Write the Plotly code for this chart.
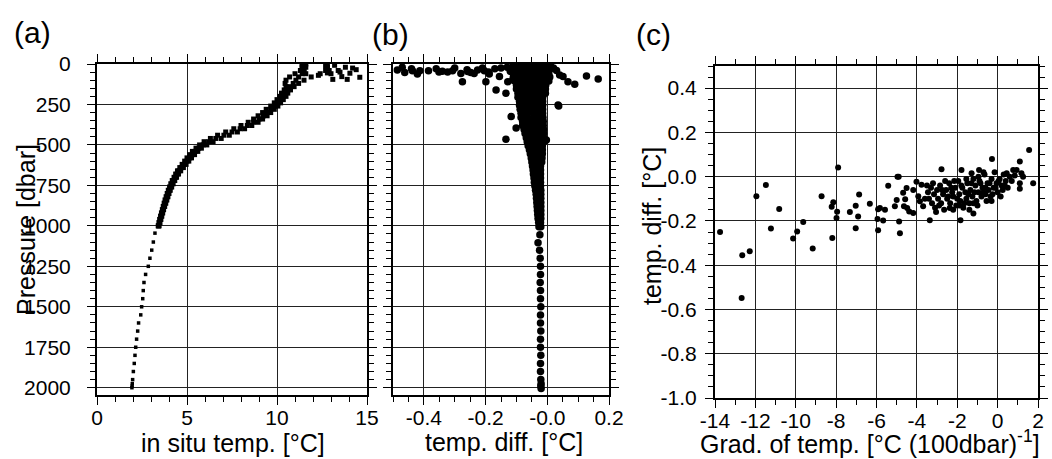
import plotly.graph_objects as go

W, H = 1052, 459
FONT = "Liberation Sans, Arial, sans-serif"

# ---------------- Panel (a): in situ temperature profiles ----------------
a_levels = [0, 20, 40, 60, 80, 100, 120, 140, 160, 180, 200, 220, 240, 260, 280, 300,
            320, 340, 360, 380, 400, 420, 440, 460, 480, 500, 520, 540, 560, 580, 600,
            620, 640, 660, 680, 700, 720, 740, 760, 780, 800, 820, 840, 860, 880, 900,
            920, 940, 960, 980, 1000]
a_temp_A = [11.4, 11.4, 11.5, 11.4, 11.2, 11.05, 10.9, 10.7, 10.6, 10.45, 10.35, 10.2, 10.05,
            9.9, 9.65, 9.45, 9.25, 9.0, 8.7, 8.35, 7.95, 7.5, 7.05, 6.6, 6.2, 5.9, 5.65, 5.45,
            5.3, 5.15, 5.0, 4.85, 4.7, 4.55, 4.45, 4.35, 4.25, 4.17, 4.1, 4.02, 3.96, 3.9,
            3.84, 3.78, 3.72, 3.67, 3.62, 3.57, 3.52, 3.47, 3.42]
a_temp_B = [12.8, 12.8, 12.7, 12.4, 11.9, 11.5, 11.2, 10.95, 10.75, 10.6, 10.5, 10.35, 10.2,
            10.05, 9.85, 9.65, 9.45, 9.2, 8.95, 8.6, 8.2, 7.8, 7.35, 6.9, 6.45, 6.1, 5.8, 5.6,
            5.42, 5.25, 5.1, 4.95, 4.8, 4.65, 4.53, 4.42, 4.32, 4.23, 4.15, 4.07, 4.0, 3.94,
            3.88, 3.82, 3.76, 3.7, 3.65, 3.6, 3.55, 3.5, 3.45]
a_temp_C = [11.6, 11.6, 11.3, 11.0, 10.7, 10.5, 10.45, 10.5, 10.4, 10.25, 10.15, 10.0, 9.85,
            9.65, 9.4, 9.2, 8.95, 8.7, 8.4, 8.0, 7.6, 7.15, 6.7, 6.3, 5.95, 5.7, 5.5, 5.3,
            5.15, 5.0, 4.87, 4.73, 4.6, 4.47, 4.37, 4.28, 4.18, 4.1, 4.03, 3.96, 3.9, 3.84,
            3.78, 3.73, 3.68, 3.63, 3.58, 3.53, 3.48, 3.44, 3.4]
a_surf_p = [5, 15, 30, 45, 60, 10, 25, 40, 55, 95, 78, 95, 57, 82, 25, 40, 60, 70, 8, 20, 35, 50]
a_surf_t = [11.4, 11.5, 11.4, 11.5, 11.6, 12.7, 12.8, 12.9, 12.8, 13.1, 13.6, 13.9, 14.05,
            14.6, 14.2, 13.4, 13.0, 12.3, 13.2, 13.8, 14.4, 13.5]
a_deep_p = [1045, 1100, 1150, 1200, 1250, 1300, 1350, 1400, 1450, 1500, 1550, 1600, 1650,
            1700, 1750, 1800, 1850, 1900, 1950, 1975, 1990, 2000]
a_deep_t = [3.22, 3.13, 3.04, 2.94, 2.85, 2.70, 2.61, 2.57, 2.54, 2.48, 2.43, 2.31, 2.26,
            2.20, 2.15, 2.11, 2.07, 2.02, 1.98, 1.96, 1.95, 1.94]

# ---------------- Panel (b): temperature difference vs pressure ----------------
b_core_levels = [10, 30, 55, 80, 105, 130, 155, 180, 205, 230, 255, 280, 305, 330, 355, 380,
                 405, 430, 455, 480, 505, 530, 555, 580, 605, 630, 655, 680, 705, 730, 755,
                 780, 805, 830, 855, 880, 905, 930, 955, 980, 1005]
b_core_vals = [
    [-0.11, -0.09, -0.07, -0.05, -0.03, -0.015, 0.0, 0.01],
    [-0.12, -0.10, -0.08, -0.06, -0.04, -0.02, -0.005, 0.01],
    [-0.11, -0.09, -0.07, -0.05, -0.03, -0.015, 0.005],
    [-0.11, -0.09, -0.07, -0.05, -0.03, -0.01, 0.008],
    [-0.105, -0.085, -0.065, -0.045, -0.025, -0.008, 0.005],
    [-0.10, -0.08, -0.06, -0.04, -0.02, -0.005],
    [-0.10, -0.08, -0.06, -0.04, -0.02, -0.006],
    [-0.095, -0.075, -0.055, -0.035, -0.018, -0.006],
    [-0.095, -0.075, -0.055, -0.035, -0.015],
    [-0.09, -0.07, -0.05, -0.03, -0.015],
    [-0.09, -0.07, -0.05, -0.03, -0.015],
    [-0.088, -0.068, -0.05, -0.03, -0.015],
    [-0.085, -0.065, -0.045, -0.028, -0.015],
    [-0.085, -0.065, -0.045, -0.028, -0.014],
    [-0.08, -0.06, -0.042, -0.025, -0.013],
    [-0.08, -0.06, -0.04, -0.025, -0.013],
    [-0.075, -0.057, -0.04, -0.023, -0.012],
    [-0.072, -0.055, -0.038, -0.022, -0.012],
    [-0.068, -0.05, -0.035, -0.02, -0.012],
    [-0.065, -0.048, -0.033, -0.018, -0.012],
    [-0.062, -0.045, -0.03, -0.016],
    [-0.058, -0.042, -0.028, -0.016],
    [-0.055, -0.04, -0.026, -0.016],
    [-0.052, -0.038, -0.025, -0.017],
    [-0.05, -0.036, -0.023, -0.018],
    [-0.048, -0.035, -0.022],
    [-0.046, -0.034, -0.022],
    [-0.045, -0.033, -0.022],
    [-0.043, -0.032, -0.022],
    [-0.042, -0.031, -0.022],
    [-0.040, -0.030, -0.022],
    [-0.038, -0.029, -0.021],
    [-0.036, -0.028, -0.021],
    [-0.035, -0.027, -0.021],
    [-0.034, -0.026, -0.021],
    [-0.033, -0.025, -0.021],
    [-0.032, -0.025, -0.021],
    [-0.031, -0.024, -0.021],
    [-0.030, -0.024, -0.021],
    [-0.028, -0.022],
    [-0.027, -0.021],
]
b_out_p = [37, 53, 41, 62, 41, 41, 49, 45, 49, 41, 58, 109, 47, 53, 58, 37, 41, 109, 62, 160,
           78, 181, 109, 99, 47, 58, 88, 37, 68, 78, 109, 125, 74, 93, 253, 325, 465, 395,
           469, 259, 20, 25, 30, 20, 25, 40, 25, 30, 30, 35, 25, 50, 45]
b_out_x = [-0.486, -0.462, -0.437, -0.421, -0.413, -0.385, -0.351, -0.340, -0.323, -0.307,
           -0.280, -0.275, -0.258, -0.248, -0.237, -0.226, -0.204, -0.199, -0.188, -0.166,
           -0.155, -0.134, -0.128, -0.112, -0.095, -0.079, -0.068, -0.047, 0.040, 0.051,
           0.067, 0.089, 0.127, 0.165, 0.035, -0.117, -0.134, -0.101, -0.003, 0.037,
           -0.47, -0.30, -0.17, -0.13, 0.02, 0.03, -0.21, -0.36, -0.44, -0.26, -0.15, -0.19,
           -0.12]
b_deep_p = [1055, 1105, 1150, 1200, 1250, 1300, 1350, 1400, 1450, 1500, 1550, 1600, 1650,
            1700, 1750, 1800, 1850, 1900, 1950, 1975, 1990, 2005]
b_deep_x = [-0.024, -0.030, -0.025, -0.023, -0.022, -0.022, -0.023, -0.022, -0.022, -0.021,
            -0.022, -0.022, -0.021, -0.022, -0.022, -0.021, -0.022, -0.022, -0.021, -0.020,
            -0.021, -0.020]

# ---------------- Panel (c): temp. diff. vs gradient ----------------
c_grad = [-13.75, -12.65, -12.28, -12.68, -11.95, -11.48, -11.23, -10.82, -10.13, -9.93,
          -9.63, -9.16, -8.72, -8.22, -8.14, -7.90, -7.95, -7.98, -8.19, -7.32, -7.03,
          -6.86, -6.91, -7.03, -6.33, -5.92, -5.83, -5.58, -5.95, -5.92, -5.67, -5.42,
          -5.00, -4.96, -4.90, -5.09, -4.84, -4.88, -4.68, -4.58, -4.64, -4.51, -4.48,
          -4.38, -4.18, -4.18, -4.02, -3.93, -3.85, -3.77, -3.69, -3.36, -2.78, -2.37,
          -1.84, -1.79, -1.29, -1.20, -0.92, -0.28, 0.77, 0.94, 1.10, 1.18, 1.10, 1.10,
          1.26, 1.56, 1.76]
c_diff = [-0.250, -0.355, -0.337, -0.548, -0.089, -0.038, -0.234, -0.146, -0.279, -0.248,
          -0.205, -0.325, -0.089, -0.136, -0.116, 0.041, -0.158, -0.187, -0.277, -0.160,
          -0.131, -0.081, -0.180, -0.233, -0.122, -0.147, -0.142, -0.149, -0.191, -0.242,
          -0.198, -0.041, -0.105, 0.0, 0.0, -0.134, -0.256, -0.203, -0.073, -0.102, -0.134,
          -0.051, -0.142, -0.157, -0.164, -0.060, -0.023, -0.089, -0.111, -0.036, -0.134,
          -0.197, 0.033, -0.142, -0.197, 0.030, 0.015, -0.166, 0.030, 0.080, 0.030, 0.030,
          0.068, 0.015, -0.030, -0.055, 0.0, 0.121, -0.030]
c_cloud_grad = [-3.45, -3.40, -3.30, -3.25, -3.15, -3.10, -3.00, -2.95, -2.85, -2.80, -2.70,
                -2.65, -2.55, -2.50, -2.40, -2.35, -2.25, -2.20, -2.10, -2.05, -1.95, -1.90,
                -1.85, -1.75, -1.70, -1.60, -1.55, -1.50, -1.40, -1.35, -1.25, -1.20, -1.10,
                -1.05, -0.95, -0.90, -0.80, -0.75, -0.65, -0.60, -0.50, -0.45, -0.35, -0.30,
                -0.20, -0.15, -0.05, 0.00, 0.10, 0.20, 0.30, 0.40, 0.50, 0.60, 0.70, 0.85,
                -3.20, -2.90, -2.60, -2.30, -2.00, -1.80, -1.65, -1.45, -1.30, -1.15, -1.00,
                -0.85, -0.70, -0.55, -0.40, -0.25, -0.10, 0.05, 0.25, 0.45, -2.75, -2.45,
                -2.15, -1.90, -1.55, -1.20, -0.95, -0.60, -0.30, 0.15, -3.50, -3.60, -3.05,
                -2.20, -1.40, -0.70, 0.35]
c_cloud_diff = [-0.07, -0.10, -0.05, -0.12, -0.08, -0.14, -0.06, -0.10, -0.04, -0.12, -0.08,
                -0.15, -0.06, -0.10, -0.03, -0.12, -0.07, -0.09, -0.05, -0.13, -0.02, -0.08,
                -0.11, -0.05, -0.14, -0.07, -0.10, -0.03, -0.12, -0.06, -0.09, -0.01, -0.04,
                -0.11, -0.07, -0.02, -0.09, -0.05, 0.01, -0.08, -0.03, -0.06, -0.09, -0.01,
                -0.05, 0.02, -0.03, -0.07, -0.01, -0.04, 0.01, -0.02, -0.05, 0.0, -0.02,
                0.005, -0.03, -0.13, -0.02, -0.05, -0.10, -0.04, -0.12, -0.08, -0.03, -0.07,
                -0.13, -0.03, -0.07, -0.11, -0.03, -0.08, -0.05, -0.02, -0.06, 0.015, -0.06,
                -0.09, -0.02, -0.13, -0.01, -0.12, 0.0, -0.05, -0.11, -0.09, -0.04, -0.10,
                -0.16, -0.15, -0.15, 0.02, -0.04]

# tick labels
a_x_ticks = [0, 5, 10, 15]
a_y_ticks = [0, 250, 500, 750, 1000, 1250, 1500, 1750, 2000]
b_x_tickvals = [-0.4, -0.2, 0.0, 0.2]
b_x_ticktext = ["-0.4", "-0.2", "-0.0", "0.2"]
c_x_tickvals = [-14, -12, -10, -8, -6, -4, -2, 0, 2]
c_x_ticktext = ["-14", "-12", "-10", "-8", "-6", "-4", "-2", "0", "2"]
c_y_tickvals = [-1.0, -0.8, -0.6, -0.4, -0.2, 0.0, 0.2, 0.4]
c_y_ticktext = ["-1.0", "-0.8", "-0.6", "-0.4", "-0.2", "0.0", "0.2", "0.4"]

# ------------------------------------------------------------------
fig = go.Figure()

a_x = a_temp_A + a_temp_B + a_temp_C + a_surf_t
a_y = a_levels * 3 + a_surf_p
fig.add_trace(go.Scatter(x=a_x, y=a_y, mode="markers", xaxis="x", yaxis="y",
                         marker=dict(symbol="square", size=5, color="black"),
                         showlegend=False))
fig.add_trace(go.Scatter(x=a_deep_t, y=a_deep_p, mode="markers", xaxis="x", yaxis="y",
                         marker=dict(symbol="square", size=3.5, color="black"),
                         showlegend=False))

b_x, b_y = [], []
for lev, vals in zip(b_core_levels, b_core_vals):
    for v in vals:
        b_x.append(v)
        b_y.append(lev)
b_x += b_out_x + b_deep_x
b_y += b_out_p + b_deep_p
fig.add_trace(go.Scatter(x=b_x, y=b_y, mode="markers", xaxis="x2", yaxis="y2",
                         marker=dict(symbol="circle", size=7.5, color="black"),
                         showlegend=False))

fig.add_trace(go.Scatter(x=c_grad + c_cloud_grad, y=c_diff + c_cloud_diff, mode="markers",
                         xaxis="x3", yaxis="y3",
                         marker=dict(symbol="circle", size=6, color="black"),
                         showlegend=False))


def px(v):
    return v / W


def py(v):
    return 1 - v / H


tickfont = dict(family=FONT, size=21, color="black")
common = dict(showline=True, linewidth=2, linecolor="black", mirror="allticks",
              ticks="outside", ticklen=8, tickwidth=1.2, tickcolor="black",
              showgrid=True, gridcolor="#222", gridwidth=1, zeroline=False,
              tickfont=tickfont, automargin=False)


def minor(d):
    return dict(tickmode="linear", tick0=0, dtick=d, ticks="outside", ticklen=5,
                tickwidth=1, tickcolor="black", showgrid=False)


ydom_ab = [py(395), py(64)]
fig.update_layout(
    width=W, height=H, margin=dict(l=0, r=0, t=0, b=0, pad=0, autoexpand=False),
    paper_bgcolor="white", plot_bgcolor="white", showlegend=False,
    font=dict(family=FONT, color="black"),
    xaxis=dict(domain=[px(97), px(367)], range=[0, 15], tickmode="array",
               tickvals=a_x_ticks, minor=minor(1), anchor="y", ticklabelstandoff=-5,
               **common),
    yaxis=dict(domain=ydom_ab, range=[2045, 0], tickmode="array", tickvals=a_y_ticks,
               minor=minor(50), anchor="x", ticklabelstandoff=12, **common),
    xaxis2=dict(domain=[px(393), px(609)], range=[-0.5, 0.2], tickmode="array",
                tickvals=b_x_tickvals, ticktext=b_x_ticktext, minor=minor(0.05),
                anchor="y2", ticklabelstandoff=-5, **common),
    yaxis2=dict(domain=ydom_ab, range=[2045, 0], tickmode="array", tickvals=a_y_ticks,
                minor=minor(50), anchor="x2", showticklabels=False, **common),
    xaxis3=dict(domain=[px(715), px(1038)], range=[-14, 2], tickmode="array",
                tickvals=c_x_tickvals, ticktext=c_x_ticktext, minor=minor(1),
                anchor="y3", ticklabelstandoff=-5, **common),
    yaxis3=dict(domain=[py(398), py(66)], range=[-1.0, 0.5], tickmode="array",
                tickvals=c_y_tickvals, ticktext=c_y_ticktext, minor=minor(0.05),
                anchor="x3", ticklabelstandoff=4, **common),
)

ann_font = dict(family=FONT, size=25, color="black")
lab_font = dict(family=FONT, size=30, color="black")
annotations = [
    dict(text="(a)", x=px(32), y=py(32), font=lab_font),
    dict(text="(b)", x=px(390), y=py(34), font=lab_font),
    dict(text="(c)", x=px(653), y=py(34), font=lab_font),
    dict(text="Pressure [dbar]", x=px(26), y=py(230), textangle=-90, font=ann_font),
    dict(text="in situ temp. [°C]", x=px(233), y=py(443), font=ann_font),
    dict(text="temp. diff. [°C]", x=px(504), y=py(442), font=ann_font),
    dict(text="Grad. of temp. [°C (100dbar)<sup>-1</sup>]", x=px(870), y=py(442),
         font=ann_font),
    dict(text="temp. diff. [°C]", x=px(652), y=py(226), textangle=-90, font=ann_font),
]
for a in annotations:
    a.update(xref="paper", yref="paper", xanchor="center", yanchor="middle",
             showarrow=False)
fig.update_layout(annotations=annotations)

fig.write_html("out.html", config={"displayModeBar": False},
               post_script="document.body.style.margin='0';document.body.style.overflow='hidden';")
